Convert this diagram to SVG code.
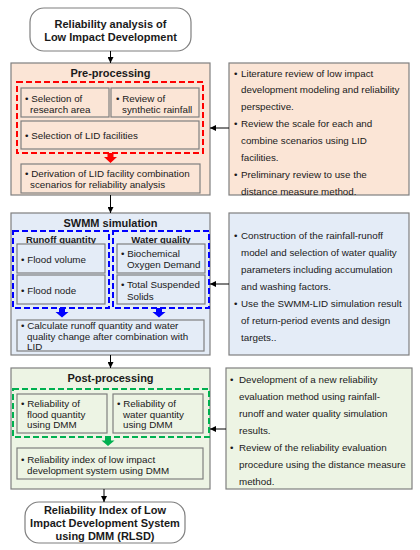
<svg xmlns="http://www.w3.org/2000/svg" width="420" height="550" viewBox="0 0 420 550">
<defs>
<style>
text{font-family:"Liberation Sans",Arial,sans-serif;fill:#1a1a1a}
.t{font-size:11px;font-weight:bold;text-anchor:middle}
.h{font-size:9.5px;font-weight:bold;text-anchor:middle}
.b{font-size:9.8px}
.r{font-size:9.8px}
.box{stroke:#7f7f7f;stroke-width:1.2}
.pre{fill:#fbe5d6}
.swmm{fill:#e4ecf7}
.post{fill:#edf4e4}
.term{fill:#fff;stroke:#7f7f7f;stroke-width:1.2}
.con{stroke:#000;stroke-width:1;fill:none;marker-end:url(#ah)}
</style>
<marker id="ah" viewBox="0 0 10 10" refX="10" refY="5" markerWidth="6" markerHeight="6" markerUnits="userSpaceOnUse" orient="auto"><path d="M0,0 L10,5 L0,10 z" fill="#000"/></marker>
</defs>
<rect width="420" height="550" fill="#fff"/>

<g id="start">
<rect class="term" x="30" y="8" width="161" height="43" rx="14"/>
<text class="t" x="110.5" y="28">Reliability analysis of</text>
<text class="t" x="110.5" y="41">Low Impact Development</text>
</g>

<g id="preprocessing">
<rect class="box pre" x="11" y="63" width="199" height="132"/>
<text class="t" x="110.5" y="77">Pre-processing</text>
<rect x="17" y="82" width="186" height="71" fill="none" stroke="#ff0000" stroke-width="2" stroke-dasharray="6,3"/>
<g id="pre-area"><rect class="box pre" x="21" y="88" width="88" height="29"/>
<text class="b" x="25" y="101.5">• Selection of</text><text class="b" x="30" y="112.5">research area</text></g>
<g id="pre-rain"><rect class="box pre" x="111" y="88" width="88" height="29"/>
<text class="b" x="116" y="101.5">• Review of</text><text class="b" x="122" y="112.5">synthetic rainfall</text></g>
<g id="pre-lid"><rect class="box pre" x="21" y="121" width="178" height="28"/>
<text class="b" x="25" y="138.5">• Selection of LID facilities</text></g>
<path d="M107.5,153 h6 v4 h3.5 l-6.5,6 l-6.5,-6 h3.5 z" fill="#ff0000"/>
<g id="pre-derive"><rect class="box pre" x="21" y="164" width="179" height="29"/>
<text class="b" x="25" y="176.5">• Derivation of LID facility combination</text><text class="b" x="30" y="187.5">scenarios for reliability analysis</text></g>
</g>

<g id="pre-notes">
<rect class="box pre" x="229" y="63" width="180" height="132"/>
<text class="r" x="234" y="76.5">•</text><text class="r" x="241" y="76.5">Literature review of low impact</text>
<text class="r" x="241" y="93">development modeling and reliability</text>
<text class="r" x="241" y="110">perspective.</text>
<text class="r" x="234" y="127">•</text><text class="r" x="241" y="127">Review the scale for each and</text>
<text class="r" x="241" y="144">combine scenarios using LID</text>
<text class="r" x="241" y="161">facilities.</text>
<text class="r" x="234" y="178">•</text><text class="r" x="241" y="178">Preliminary review to use the</text>
<text class="r" x="241" y="194.5">distance measure method.</text>
</g>

<g id="swmm">
<rect class="box swmm" x="11" y="213" width="199" height="142"/>
<text class="t" x="110.5" y="227">SWMM simulation</text>
<rect x="13" y="231" width="96" height="77" fill="none" stroke="#0000ff" stroke-width="2" stroke-dasharray="6,3"/>
<rect x="113" y="231" width="96" height="77" fill="none" stroke="#0000ff" stroke-width="2" stroke-dasharray="6,3"/>
<text class="h" x="61" y="242.5">Runoff quantity</text>
<text class="h" x="161" y="242.5">Water quality</text>
<g id="swmm-fv"><rect class="box swmm" x="17" y="244" width="88" height="29"/>
<text class="b" x="21" y="262.5">• Flood volume</text></g>
<g id="swmm-fn"><rect class="box swmm" x="17" y="275" width="88" height="29"/>
<text class="b" x="21" y="293.5">• Flood node</text></g>
<g id="swmm-bod"><rect class="box swmm" x="117" y="244" width="88" height="29"/>
<text class="b" x="121" y="256.5">• Biochemical</text><text class="b" x="127" y="267.5">Oxygen Demand</text></g>
<g id="swmm-tss"><rect class="box swmm" x="117" y="275" width="88" height="29"/>
<text class="b" x="121" y="287.5">• Total Suspended</text><text class="b" x="127" y="299.5">Solids</text></g>
<path d="M59,308 h6 v4 h3.5 l-6.5,5.5 l-6.5,-5.5 h3.5 z" fill="#0000ff"/>
<path d="M156,308 h6 v4 h3.5 l-6.5,5.5 l-6.5,-5.5 h3.5 z" fill="#0000ff"/>
<g id="swmm-calc"><rect class="box swmm" x="17" y="320" width="187" height="31"/>
<text class="b" x="21" y="328.5">• Calculate runoff quantity and water</text>
<text class="b" x="27" y="339.5">quality change after combination with</text>
<text class="b" x="27" y="350">LID</text></g>
</g>

<g id="swmm-notes">
<rect class="box swmm" x="229" y="213" width="180" height="142"/>
<text class="r" x="234" y="238.5">•</text><text class="r" x="241" y="238.5">Construction of the rainfall-runoff</text>
<text class="r" x="241" y="255.5">model and selection of water quality</text>
<text class="r" x="241" y="272.5">parameters including accumulation</text>
<text class="r" x="241" y="289.5">and washing factors.</text>
<text class="r" x="234" y="306.5">•</text><text class="r" x="241" y="306.5">Use the SWMM-LID simulation result</text>
<text class="r" x="241" y="323.5">of return-period events and design</text>
<text class="r" x="241" y="340.5">targets..</text>
</g>

<g id="post">
<rect class="box post" x="11" y="368" width="199" height="121"/>
<text class="t" x="110.5" y="382">Post-processing</text>
<rect x="13" y="389" width="196" height="48" fill="none" stroke="#00b050" stroke-width="2" stroke-dasharray="6,3"/>
<g id="post-flood"><rect class="box post" x="17" y="394" width="90" height="39"/>
<text class="b" x="21" y="406.5">• Reliability of</text><text class="b" x="27" y="417.5">flood quantity</text><text class="b" x="27" y="428">using DMM</text></g>
<g id="post-water"><rect class="box post" x="113" y="394" width="90" height="39"/>
<text class="b" x="117" y="406.5">• Reliability of</text><text class="b" x="123" y="417.5">water quantity</text><text class="b" x="123" y="428">using DMM</text></g>
<path d="M105,437 h6 v3.5 h3.5 l-6.5,5.5 l-6.5,-5.5 h3.5 z" fill="#00b050"/>
<g id="post-index"><rect class="box post" x="17" y="448" width="186" height="31"/>
<text class="b" x="21" y="462.5">• Reliability index of low impact</text>
<text class="b" x="27" y="473.5">development system using DMM</text></g>
</g>

<g id="post-notes">
<rect class="box post" x="226" y="368" width="186" height="121"/>
<text class="r" x="230" y="382.5">•</text><text class="r" x="239" y="382.5">Development of a new reliability</text>
<text class="r" x="239" y="399.5">evaluation method using rainfall-</text>
<text class="r" x="239" y="416.5">runoff and water quality simulation</text>
<text class="r" x="239" y="433.5">results.</text>
<text class="r" x="230" y="450.5">•</text><text class="r" x="239" y="450.5">Review of the reliability evaluation</text>
<text class="r" x="239" y="467.5">procedure using the distance measure</text>
<text class="r" x="239" y="484.5">method.</text>
</g>

<g id="end">
<rect class="term" x="25" y="502" width="160" height="41" rx="14"/>
<text class="t" x="105" y="514">Reliability Index of Low</text>
<text class="t" x="105" y="527">Impact Development System</text>
<text class="t" x="105" y="540">using DMM (RLSD)</text>
</g>

<g id="connectors">
<path class="con" d="M110.5,51 V63"/>
<path class="con" d="M229,128 H210"/>
<path class="con" d="M110.5,195 V213"/>
<path class="con" d="M229,284 H210"/>
<path class="con" d="M110.5,355 V368"/>
<path class="con" d="M226,429 H210"/>
<path class="con" d="M104,489 V502"/>
</g>
</svg>
